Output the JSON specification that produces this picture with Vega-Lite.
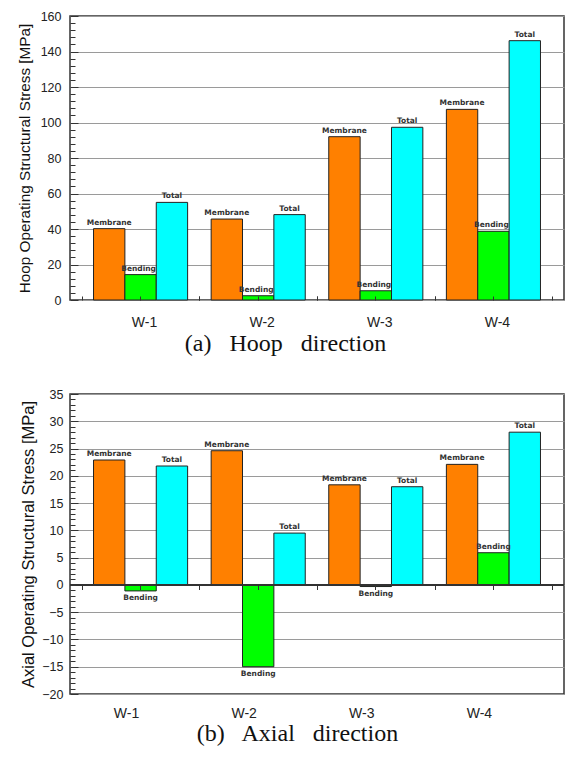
{
  "$schema": "https://vega.github.io/schema/vega-lite/v6.json",
  "padding": {"left": 16, "top": 9, "right": 2, "bottom": 2},
  "background": "white",
  "datasets": {
    "hoop": [
      {"well": "W-1", "component": "Membrane", "value": 40.2},
      {"well": "W-1", "component": "Bending", "value": 14.3},
      {"well": "W-1", "component": "Total", "value": 55.0},
      {"well": "W-2", "component": "Membrane", "value": 45.6},
      {"well": "W-2", "component": "Bending", "value": 2.4},
      {"well": "W-2", "component": "Total", "value": 48.1},
      {"well": "W-3", "component": "Membrane", "value": 92.0},
      {"well": "W-3", "component": "Bending", "value": 5.2},
      {"well": "W-3", "component": "Total", "value": 97.3},
      {"well": "W-4", "component": "Membrane", "value": 107.4},
      {"well": "W-4", "component": "Bending", "value": 38.7},
      {"well": "W-4", "component": "Total", "value": 146.1}
    ],
    "axial": [
      {"well": "W-1", "component": "Membrane", "value": 22.9},
      {"well": "W-1", "component": "Bending", "value": -1.1},
      {"well": "W-1", "component": "Total", "value": 21.8},
      {"well": "W-2", "component": "Membrane", "value": 24.6},
      {"well": "W-2", "component": "Bending", "value": -15.0},
      {"well": "W-2", "component": "Total", "value": 9.5},
      {"well": "W-3", "component": "Membrane", "value": 18.35},
      {"well": "W-3", "component": "Bending", "value": -0.3},
      {"well": "W-3", "component": "Total", "value": 18.0},
      {"well": "W-4", "component": "Membrane", "value": 22.1},
      {"well": "W-4", "component": "Bending", "value": 5.9},
      {"well": "W-4", "component": "Total", "value": 28.0}
    ]
  },
  "config": {
    "view": {"stroke": "#333333", "strokeWidth": 1.5},
    "axis": {
      "labelFont": "Liberation Sans",
      "titleFont": "Liberation Sans",
      "labelColor": "#222222",
      "titleColor": "#111111",
      "tickColor": "#333333",
      "tickWidth": 1,
      "titleFontWeight": "normal",
      "gridColor": "#9a9a9a",
      "labelOverlap": false
    },
    "text": {"font": "DejaVu Sans", "fontWeight": "bold", "fontSize": 7.5, "color": "#333333"}
  },
  "spacing": 31,
  "vconcat": [
    {
      "width": 494,
      "height": 284,
      "data": {"name": "hoop"},
      "resolve": {"axis": {"x": "independent", "y": "independent"}},
      "layer": [
        {
          "mark": {"type": "bar", "stroke": "#222222", "strokeWidth": 1},
          "encoding": {
            "x": {
              "field": "well", "type": "nominal",
              "scale": {"paddingInner": 0.2, "paddingOuter": 0.2},
              "axis": {
                "orient": "bottom",
                "title": "(a)\u2002 Hoop\u2002 direction",
                "titleFont": "Liberation Serif", "titleFontSize": 24,
                "titleX": 215, "titlePadding": 2,
                "labelAngle": 0, "labelFontSize": 14, "labelPadding": 15, "labelOffset": 4,
                "domain": false, "ticks": false
              }
            },
            "xOffset": {
              "field": "component", "type": "nominal",
              "sort": ["Membrane", "Bending", "Total"],
              "scale": {"paddingInner": 0, "paddingOuter": 0}
            },
            "y": {
              "field": "value", "type": "quantitative",
              "scale": {"domain": [0, 160], "nice": false},
              "axis": {
                "orient": "left",
                "title": "Hoop Operating Structural Stress [MPa]",
                "titleFontSize": 15.3, "titlePadding": 8,
                "values": [0, 20, 40, 60, 80, 100, 120, 140, 160],
                "labelFontSize": 12.5, "labelPadding": 9,
                "domain": false, "ticks": false, "grid": true
              }
            },
            "color": {
              "field": "component", "type": "nominal",
              "scale": {"domain": ["Membrane", "Bending", "Total"], "range": ["#FF8000", "#00FF00", "#00FFFF"]},
              "legend": null
            }
          }
        },
        {
          "transform": [{"filter": "datum.component === 'Membrane'"}],
          "mark": {"type": "text", "baseline": "bottom", "dy": -2},
          "encoding": {
            "x": {
              "field": "well", "type": "nominal",
              "axis": {
                "orient": "top", "offset": -284,
                "title": null, "labels": false, "domain": false, "grid": false,
                "ticks": true, "tickSize": 4, "zindex": 1
              }
            },
            "xOffset": {"field": "component", "type": "nominal", "sort": ["Membrane", "Bending", "Total"]},
            "y": {
              "field": "value", "type": "quantitative",
              "axis": {
                "orient": "right", "offset": -494,
                "title": null, "labels": false, "domain": false, "grid": false,
                "ticks": true,
                "values": [0,4,8,12,16,20,24,28,32,36,40,44,48,52,56,60,64,68,72,76,80,84,88,92,96,100,104,108,112,116,120,124,128,132,136,140,144,148,152,156,160],
                "tickSize": {"condition": {"test": "datum.value % 20 === 0", "value": 8}, "value": 5},
                "zindex": 1
              }
            },
            "text": {"field": "component"}
          }
        },
        {
          "transform": [{"filter": "datum.component === 'Bending'"}],
          "mark": {"type": "text", "baseline": "bottom", "dy": -2, "dx": -2},
          "encoding": {
            "x": {
              "field": "well", "type": "nominal",
              "axis": {
                "orient": "top", "offset": -284,
                "title": null, "labels": false, "domain": false, "grid": false,
                "ticks": true, "bandPosition": 0, "tickOffset": -11.76,
                "tickSize": 4, "zindex": 1
              }
            },
            "xOffset": {"field": "component", "type": "nominal", "sort": ["Membrane", "Bending", "Total"]},
            "y": {"field": "value", "type": "quantitative", "axis": null},
            "text": {"field": "component"}
          }
        },
        {
          "transform": [{"filter": "datum.component === 'Total'"}],
          "mark": {"type": "text", "baseline": "bottom", "dy": -2},
          "encoding": {
            "x": {
              "field": "well", "type": "nominal",
              "axis": {
                "orient": "top", "offset": -284,
                "title": null, "labels": false, "domain": false, "grid": false,
                "ticks": true, "bandPosition": 1, "tickOffset": 11.76,
                "tickSize": 4, "zindex": 1
              }
            },
            "xOffset": {"field": "component", "type": "nominal", "sort": ["Membrane", "Bending", "Total"]},
            "y": {"field": "value", "type": "quantitative", "axis": null},
            "text": {"field": "component"}
          }
        }
      ]
    },
    {
      "width": 494,
      "height": 300,
      "data": {"name": "axial"},
      "resolve": {"axis": {"x": "independent", "y": "independent"}},
      "layer": [
        {
          "mark": {"type": "bar", "stroke": "#222222", "strokeWidth": 1},
          "encoding": {
            "x": {
              "field": "well", "type": "nominal",
              "scale": {"paddingInner": 0.2, "paddingOuter": 0.2},
              "axis": {
                "orient": "bottom",
                "title": "(b)\u2002 Axial\u2002 direction",
                "titleFont": "Liberation Serif", "titleFontSize": 24,
                "titleX": 227, "titlePadding": 1,
                "labelAngle": 0, "labelFontSize": 14, "labelPadding": 12, "labelOffset": -14,
                "domain": false, "ticks": false
              }
            },
            "xOffset": {
              "field": "component", "type": "nominal",
              "sort": ["Membrane", "Bending", "Total"],
              "scale": {"paddingInner": 0, "paddingOuter": 0}
            },
            "y": {
              "field": "value", "type": "quantitative",
              "scale": {"domain": [-20, 35], "nice": false},
              "axis": {
                "orient": "left",
                "title": "Axial Operating Structural Stress [MPa]",
                "titleFontSize": 16.5, "titlePadding": 5,
                "values": [-20, -15, -10, -5, 0, 5, 10, 15, 20, 25, 30, 35],
                "labelFontSize": 12.5, "labelPadding": 7,
                "domain": false, "ticks": false, "grid": true
              }
            },
            "color": {
              "field": "component", "type": "nominal",
              "scale": {"domain": ["Membrane", "Bending", "Total"], "range": ["#FF8000", "#00FF00", "#00FFFF"]},
              "legend": null
            }
          }
        },
        {
          "mark": {"type": "rule", "color": "#333333", "strokeWidth": 1.5},
          "encoding": {"y": {"datum": 0, "axis": null}}
        },
        {
          "transform": [{"filter": "datum.component === 'Membrane'"}],
          "mark": {"type": "text", "baseline": "bottom", "dy": -2},
          "encoding": {
            "x": {
              "field": "well", "type": "nominal",
              "axis": {
                "orient": "bottom", "offset": -108.5,
                "title": null, "labels": false, "domain": false, "grid": false,
                "ticks": true, "tickSize": 4, "zindex": 1
              }
            },
            "xOffset": {"field": "component", "type": "nominal", "sort": ["Membrane", "Bending", "Total"]},
            "y": {
              "field": "value", "type": "quantitative",
              "axis": {
                "orient": "right", "offset": -494,
                "title": null, "labels": false, "domain": false, "grid": false,
                "ticks": true,
                "values": [-20,-19,-18,-17,-16,-15,-14,-13,-12,-11,-10,-9,-8,-7,-6,-5,-4,-3,-2,-1,0,1,2,3,4,5,6,7,8,9,10,11,12,13,14,15,16,17,18,19,20,21,22,23,24,25,26,27,28,29,30,31,32,33,34,35],
                "tickSize": {"condition": {"test": "datum.value % 5 === 0", "value": 8}, "value": 5},
                "zindex": 1
              }
            },
            "text": {"field": "component"}
          }
        },
        {
          "transform": [{"filter": "datum.component !== 'Membrane' && datum.value >= 0"}],
          "mark": {"type": "text", "baseline": "bottom", "dy": -2},
          "encoding": {
            "x": {
              "field": "well", "type": "nominal",
              "axis": {
                "orient": "bottom", "offset": -108.5,
                "title": null, "labels": false, "domain": false, "grid": false,
                "ticks": true, "tickSize": 4, "zindex": 1,
                "bandPosition": 1, "tickOffset": 11.76
              }
            },
            "xOffset": {"field": "component", "type": "nominal", "sort": ["Membrane", "Bending", "Total"]},
            "y": {"field": "value", "type": "quantitative", "axis": null},
            "text": {"field": "component"}
          }
        },
        {
          "transform": [{"filter": "datum.value < 0"}],
          "mark": {"type": "text", "baseline": "top", "dy": 3},
          "encoding": {
            "x": {
              "field": "well", "type": "nominal",
              "axis": {
                "orient": "bottom", "offset": -108.5,
                "title": null, "labels": false, "domain": false, "grid": false,
                "ticks": true, "tickSize": 4, "zindex": 1,
                "bandPosition": 0, "tickOffset": -11.76
              }
            },
            "xOffset": {"field": "component", "type": "nominal", "sort": ["Membrane", "Bending", "Total"]},
            "y": {"field": "value", "type": "quantitative", "axis": null},
            "text": {"field": "component"}
          }
        }
      ]
    }
  ]
}
